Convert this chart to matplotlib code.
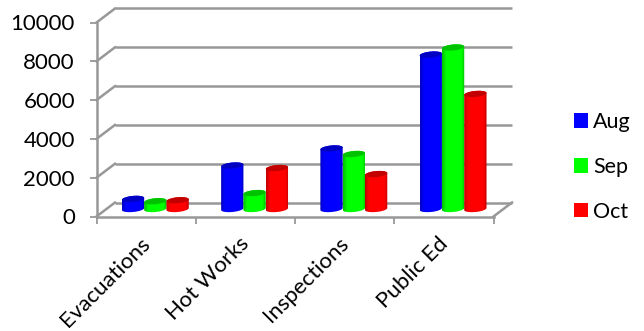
#!/usr/bin/env python
# encoding: utf-8
import matplotlib
matplotlib.use("Agg")
import matplotlib.pyplot as plt
import numpy as np
from matplotlib.patches import Patch, PathPatch, Polygon
from matplotlib.path import Path
from matplotlib.transforms import ScaledTranslation

categories = ["Evacuations", "Hot Works", "Inspections", "Public Ed"]
months = ["Aug", "Sep", "Oct"]
aug = [520, 2240, 3120, 7960]
sep = [400, 820, 2835, 8325]
oct_ = [450, 2110, 1800, 5930]
y_ticks = [0, 2000, 4000, 6000, 8000, 10000]

colors = [(0, 0, 1), (0, 1, 0), (1, 0, 0)]
grid_color = "#989898"

W, H = 644, 331
left, right, top, bottom = 96.5, 493.5, 22.5, 216.5

plt.rcParams["font.family"] = ["Lato", "DejaVu Sans"]

fig = plt.figure(figsize=(W / 100, H / 100), dpi=100)
ax = fig.add_axes([left / W, 1 - bottom / H, (right - left) / W, (bottom - top) / H])
ax.set_xlim(0, 4)
ax.set_ylim(0, 10000)

# pixel to data factors
px_x = 4 / (right - left)
px_y = 10000 / (bottom - top)

depth_x = 18.5 * px_x
depth_y = 14 * px_y
bar_w = 22.3 * px_x
bar_shift = 9.2 * px_x
base = 7.5 * px_y
cap_b = 3.0 * px_y
cap_tilt = 1.0 * px_y


def draw_walls():
    for v in y_ticks:
        ax.plot([0, depth_x], [v, v + depth_y], color=grid_color, lw=1.8, clip_on=False, zorder=1)
        ax.plot([depth_x, 4 + depth_x], [v + depth_y, v + depth_y], color=grid_color, lw=1.8,
                clip_on=False, zorder=1, solid_capstyle="butt")
    ax.plot([4, 4 + depth_x], [0, depth_y], color=grid_color, lw=1.8, clip_on=False, zorder=1)


def ellipse(cx, cy, t):
    return np.column_stack([cx + bar_w / 2 * np.cos(t), cy + cap_b * np.sin(t) + cap_tilt * np.cos(t)])


def draw_cylinder(cx, value, color, z):
    color = np.array(color, dtype=float)
    y0 = base
    y1 = base + value
    lower = ellipse(cx, y0, np.linspace(np.pi, 2 * np.pi, 30))
    upper = ellipse(cx, y1, np.linspace(0, np.pi, 30))
    outline = np.vstack([lower, upper, lower[:1]])

    # shading across the cylinder, darker on the edges
    u = np.linspace(0, 1, 64)
    shade = 0.75 + 0.25 * np.clip(np.minimum(u / 0.18, (1 - u) / 0.14), 0, 1)
    grad = (shade[:, None] * color)[None, :, :]
    im = ax.imshow(grad, extent=[cx - bar_w / 2, cx + bar_w / 2, y0 - cap_b * 1.5, y1 + cap_b * 1.5],
                   aspect="auto", zorder=z, interpolation="bilinear")
    clip = PathPatch(Path(outline), transform=ax.transData, fc="none", ec="none")
    ax.add_patch(clip)
    im.set_clip_path(clip)
    im.set_clip_on(True)

    cap = ellipse(cx, y1, np.linspace(0, 2 * np.pi, 60))
    ax.add_patch(Polygon(cap, closed=True, fc=color * 0.76, ec="none", zorder=z + 0.5, clip_on=False))


draw_walls()

for i, values in enumerate([aug, sep, oct_]):
    for k, v in enumerate(values):
        cx = k + 0.5 + bar_shift + (i - 1) * bar_w
        draw_cylinder(cx, v, colors[i], 3 + k + i * 0.1)

ax.set_xlim(0, 4)
ax.set_ylim(0, 10000)

for name in ["top", "right"]:
    ax.spines[name].set_visible(False)
for name in ["left", "bottom"]:
    ax.spines[name].set_color(grid_color)
    ax.spines[name].set_linewidth(1.8)

ax.set_yticks(y_ticks)
ax.tick_params(axis="y", length=5, width=1.3, color=grid_color, pad=10.5, labelsize=16, labelcolor="black")
ax.set_xticks(range(5))
ax.set_xticklabels([])
ax.tick_params(axis="x", which="major", length=5, width=1.3, color=grid_color)
ax.set_xticks(np.arange(4) + 0.5, minor=True)
ax.set_xticklabels(categories, minor=True, rotation=45, ha="right", rotation_mode="anchor", fontsize=16)
ax.tick_params(axis="x", which="minor", length=0, pad=12)
for label in ax.get_xticklabels(minor=True):
    label.set_transform(label.get_transform() + ScaledTranslation(-6 / 100, 0, fig.dpi_scale_trans))

handles = [Patch(fc=c, ec="none") for c in colors]
fig.legend(handles, months, loc="center left", bbox_to_anchor=(574 / W, 1 - 167 / H), frameon=False,
           fontsize=15.5, handlelength=0.65, handleheight=0.65, handletextpad=0.25, labelspacing=1.15,
           borderpad=0, borderaxespad=0)

fig.savefig("out.png", dpi=100)
